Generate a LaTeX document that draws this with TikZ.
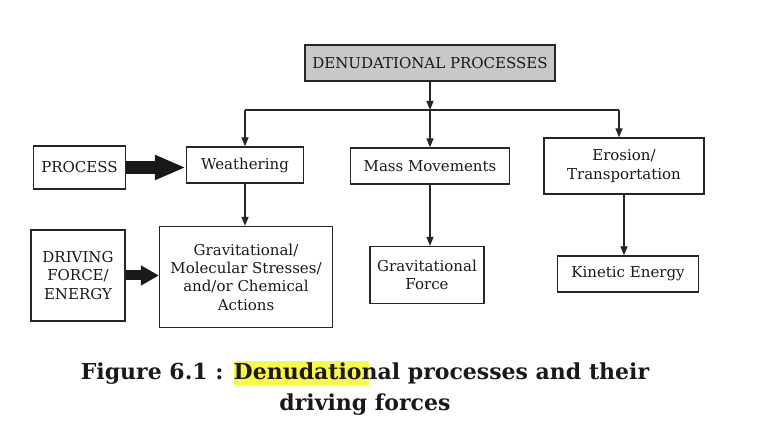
\documentclass[tikz,border=0pt]{standalone}
\usepackage{fontspec}
\setmainfont{DejaVu Serif}
\usepackage{xcolor}
\usetikzlibrary{positioning,calc,arrows.meta}

\definecolor{headgray}{RGB}{200,200,200}
\definecolor{hlyellow}{RGB}{250,250,70}
\newcommand{\hlword}[1]{{\setlength{\fboxsep}{0pt}\colorbox{hlyellow}{\rule[-6pt]{0pt}{24pt}#1\kern7pt}}\kern-7pt}

\tikzset{
  box/.style={draw=black!85, line width=1.3pt, align=center, inner sep=2pt,
    font=\fontsize{15}{18.3}\selectfont, text=black!90},
  link/.style={line width=1.2pt, draw=black!85, -{Triangle[length=9pt,width=7pt]}},
  bigarrow/.style={line width=13pt, draw=black!90, -{Triangle[length=31pt,width=23pt]}},
  smallarrow/.style={line width=10pt, draw=black!90, -{Triangle[length=18pt,width=19pt]}},
}

\begin{document}
\begin{tikzpicture}[x=1pt,y=-1pt]
    \useasboundingbox (0,0) rectangle (758,422);

    % Boxes
    \node[box, fill=headgray, minimum width=250pt, minimum height=36pt] (top) at (430,63) {DENUDATIONAL PROCESSES};
    \node[box, minimum width=117pt, minimum height=36pt] (weather) at (245,165) {Weathering};
    \node[box, minimum width=159pt, minimum height=36pt] (mass) at (430,166) {Mass Movements};
    \node[box, minimum width=160pt, minimum height=56pt] (eros) at (624,166) {Erosion/\\Transportation};
    \node[box, minimum width=92pt, minimum height=43pt] (proc) at (79.5,167.5) {PROCESS};
    \node[box, minimum width=94pt, minimum height=91pt] (drive) at (78,275.5) {DRIVING\\FORCE/\\ENERGY};
    \node[box, minimum width=173pt, minimum height=101pt] (grav) at (246,277) {Gravitational/\\Molecular Stresses/\\and/or Chemical\\Actions};
    \node[box, minimum width=114pt, minimum height=57pt] (gforce) at (427,275) {Gravitational\\Force};
    \node[box, minimum width=141pt, minimum height=36pt] (kin) at (628,274) {Kinetic Energy};

    % Connectors
    \coordinate (bus) at (top.south |- 0,110);
    \coordinate (erosin) at ([xshift=-5pt]eros.north);
    \draw[link] (top.south) -- (bus);
    \draw[line width=1.2pt, draw=black!85] (bus -| weather.north) -- (bus -| erosin);
    \draw[link] (bus -| weather.north) -- (weather.north);
    \draw[link] (bus) -- (bus |- mass.north);
    \draw[link] (bus -| erosin) -- (erosin);
    \draw[link] (weather.south) -- (weather.south |- grav.north);
    \draw[link] (mass.south) -- (mass.south |- gforce.north);
    \draw[link] (eros.south) -- (eros.south |- kin.north);
    \draw[bigarrow] (proc.east) -- (proc.east -| weather.west);
    \draw[smallarrow] (drive.east) -- (drive.east -| grav.west);

    % Caption
    \node[font=\bfseries\fontsize{22}{31}\selectfont, align=center, text=black!90] (caption) at (365,388)
        {Figure 6.1 : \hlword{Denudatio}nal processes and their\\driving forces};
\end{tikzpicture}
\end{document}
